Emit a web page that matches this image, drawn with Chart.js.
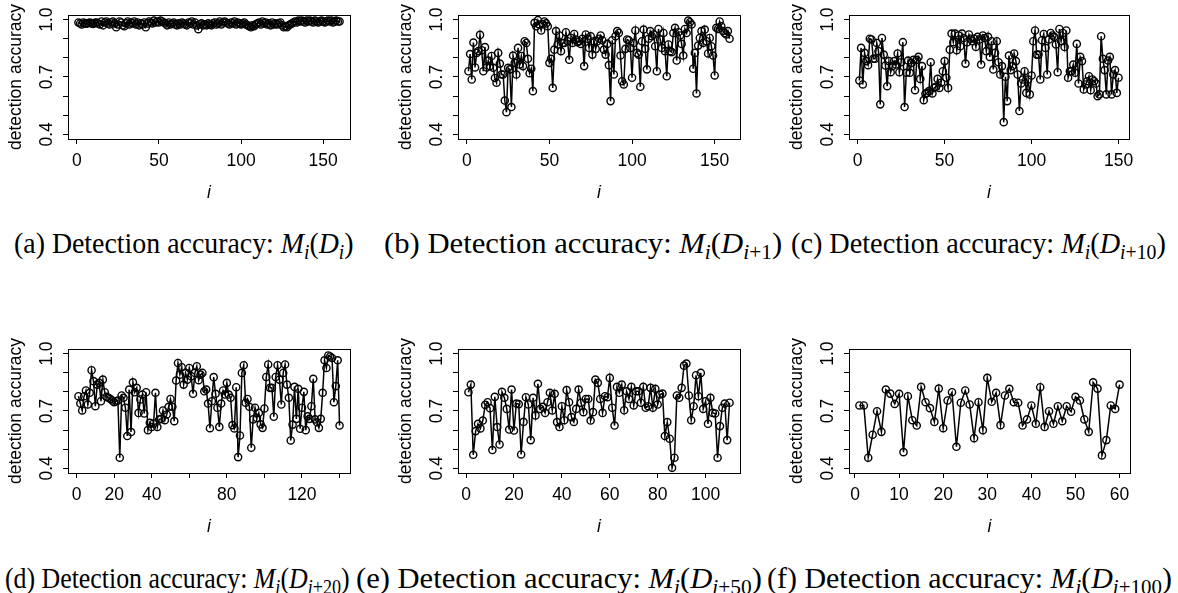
<!DOCTYPE html>
<html lang="en">
<head>
<meta charset="utf-8">
<title>Detection accuracy</title>
<script src="https://cdn.jsdelivr.net/npm/chart.js@4"></script>
<style>
  body { margin:0; background:#fff; width:1178px; height:593px; position:relative; overflow:hidden; }
  canvas { position:absolute; }
  .cap { position:absolute; white-space:nowrap; transform-origin:0 50%;
         font-family:"Liberation Serif","DejaVu Serif",serif; font-size:29.5px; color:#000; }
  .cap sub { font-size:70%; vertical-align:-0.3em; line-height:0; }
</style>
</head>
<body>

<canvas id="pa"></canvas>
<canvas id="pb"></canvas>
<canvas id="pc"></canvas>
<canvas id="pd"></canvas>
<canvas id="pe"></canvas>
<canvas id="pf"></canvas>

<!-- data-l / data-r: left and right ends of each caption in the figure -->
<div class="cap" data-l="14"  data-r="354"  data-y="243">(a) Detection accuracy: <i>M</i><sub><i>i</i></sub>(<i>D</i><sub><i>i</i></sub>)</div>
<div class="cap" data-l="384" data-r="782"  data-y="243">(b) Detection accuracy: <i>M</i><sub><i>i</i></sub>(<i>D</i><sub><i>i</i>+1</sub>)</div>
<div class="cap" data-l="791" data-r="1166" data-y="243">(c) Detection accuracy: <i>M</i><sub><i>i</i></sub>(<i>D</i><sub><i>i</i>+10</sub>)</div>
<div class="cap" data-l="5"   data-r="350"  data-y="578">(d) Detection accuracy: <i>M</i><sub><i>i</i></sub>(<i>D</i><sub><i>i</i>+20</sub>)</div>
<div class="cap" data-l="356" data-r="762"  data-y="578">(e) Detection accuracy: <i>M</i><sub><i>i</i></sub>(<i>D</i><sub><i>i</i>+50</sub>)</div>
<div class="cap" data-l="767" data-r="1172" data-y="578">(f) Detection accuracy: <i>M</i><sub><i>i</i></sub>(<i>D</i><sub><i>i</i>+100</sub>)</div>

<script>
// detection accuracy, index i = 1..n
const accA = [
  0.985,0.98,0.975,0.985,0.98,0.978,0.982,0.985,0.98,0.977,
  0.983,0.985,0.98,0.975,0.99,0.97,0.985,0.99,0.98,0.975,
  0.985,0.99,0.98,0.96,0.975,0.99,0.985,0.97,0.965,0.98,
  0.99,0.975,0.985,0.98,0.99,0.975,0.985,0.97,0.98,0.975,
  0.985,0.96,0.98,0.99,0.985,0.98,0.995,0.985,0.99,0.985,
  0.995,0.99,0.985,0.98,0.97,0.985,0.975,0.98,0.985,0.975,
  0.97,0.98,0.975,0.985,0.98,0.975,0.97,0.985,0.98,0.99,
  0.975,0.985,0.97,0.95,0.975,0.98,0.97,0.975,0.97,0.98,
  0.975,0.97,0.98,0.985,0.975,0.98,0.99,0.975,0.985,0.99,
  0.985,0.98,0.975,0.985,0.98,0.99,0.975,0.985,0.98,0.975,
  0.98,0.985,0.975,0.97,0.965,0.96,0.97,0.965,0.975,0.98,
  0.985,0.975,0.99,0.98,0.985,0.975,0.98,0.97,0.985,0.975,
  0.98,0.975,0.98,0.985,0.97,0.96,0.965,0.96,0.97,0.975,
  0.98,0.985,0.99,0.985,0.995,0.99,0.995,0.99,0.985,0.995,
  0.99,0.995,0.99,0.985,0.995,0.99,0.985,0.99,0.995,0.99,
  0.985,0.99,0.995,0.99,0.995,0.985,0.99,0.995,0.99,0.99
];
const accB = [
  0.73,0.82,0.687,0.88,0.75,0.826,0.835,0.92,0.84,0.73,
  0.856,0.75,0.786,0.757,0.81,0.748,0.695,0.67,0.826,0.77,
  0.713,0.713,0.577,0.516,0.748,0.74,0.543,0.812,0.774,0.713,
  0.852,0.765,0.81,0.757,0.887,0.878,0.795,0.72,0.743,0.626,
  0.983,0.965,0.997,0.974,0.943,0.977,0.99,0.98,0.965,0.774,
  0.795,0.643,0.843,0.94,0.87,0.917,0.835,0.878,0.878,0.934,
  0.887,0.79,0.904,0.878,0.925,0.896,0.882,0.887,0.873,0.9,
  0.757,0.922,0.9,0.852,0.913,0.817,0.887,0.847,0.887,0.9,
  0.917,0.892,0.843,0.817,0.873,0.762,0.574,0.892,0.713,0.913,
  0.94,0.93,0.812,0.678,0.661,0.847,0.896,0.892,0.852,0.696,
  0.878,0.943,0.826,0.817,0.649,0.887,0.948,0.847,0.74,0.9,
  0.94,0.913,0.922,0.861,0.73,0.951,0.896,0.852,0.93,0.835,
  0.704,0.87,0.835,0.83,0.93,0.957,0.786,0.934,0.917,0.873,
  0.812,0.951,0.93,0.995,0.986,0.974,0.743,0.826,0.614,0.864,
  0.904,0.94,0.878,0.948,0.887,0.823,0.904,0.861,0.812,0.708,
  0.957,0.951,0.99,0.965,0.94,0.93,0.922,0.94,0.9
];
const accC = [
  0.682,0.852,0.661,0.826,0.783,0.762,0.9,0.896,0.795,0.795,
  0.878,0.835,0.557,0.904,0.817,0.76,0.652,0.783,0.725,0.757,
  0.783,0.765,0.823,0.725,0.777,0.882,0.543,0.722,0.786,0.722,
  0.774,0.79,0.631,0.79,0.805,0.69,0.757,0.579,0.612,0.617,
  0.626,0.777,0.614,0.643,0.649,0.69,0.643,0.67,0.73,0.783,
  0.696,0.643,0.843,0.927,0.882,0.927,0.84,0.917,0.861,0.927,
  0.904,0.77,0.882,0.922,0.9,0.887,0.9,0.857,0.91,0.896,
  0.765,0.917,0.904,0.835,0.91,0.805,0.887,0.739,0.826,0.887,
  0.777,0.713,0.757,0.464,0.701,0.574,0.812,0.736,0.757,0.823,
  0.783,0.713,0.522,0.666,0.687,0.73,0.617,0.687,0.609,0.708,
  0.887,0.943,0.817,0.817,0.687,0.892,0.925,0.852,0.713,0.896,
  0.93,0.917,0.91,0.87,0.725,0.951,0.887,0.93,0.857,0.943,
  0.696,0.73,0.73,0.765,0.722,0.873,0.666,0.805,0.783,0.635,
  0.661,0.678,0.704,0.631,0.687,0.678,0.666,0.6,0.609,0.913,
  0.795,0.736,0.609,0.786,0.805,0.609,0.713,0.736,0.617,0.696
];
const accD = [
  0.777,0.739,0.703,0.777,0.807,0.734,0.795,0.913,0.856,0.725,
  0.838,0.847,0.751,0.864,0.798,0.774,0.769,0.763,0.755,0.746,
  0.751,0.755,0.456,0.781,0.769,0.717,0.569,0.812,0.59,0.85,
  0.798,0.821,0.69,0.76,0.786,0.687,0.798,0.6,0.638,0.616,
  0.635,0.795,0.616,0.656,0.659,0.703,0.652,0.682,0.722,0.763,
  0.722,0.647,0.859,0.951,0.89,0.929,0.838,0.899,0.864,0.925,
  0.882,0.79,0.899,0.934,0.861,0.89,0.899,0.803,0.812,0.739,
  0.61,0.751,0.877,0.79,0.717,0.617,0.739,0.807,0.786,0.847,
  0.786,0.769,0.626,0.609,0.824,0.459,0.572,0.899,0.939,0.743,
  0.763,0.722,0.508,0.656,0.717,0.664,0.69,0.63,0.612,0.713,
  0.878,0.943,0.821,0.821,0.67,0.878,0.939,0.864,0.734,0.899,
  0.943,0.838,0.769,0.546,0.629,0.826,0.659,0.816,0.607,0.717,
  0.8,0.6,0.672,0.659,0.725,0.868,0.656,0.641,0.612,0.659,
  0.795,0.965,0.925,0.99,0.985,0.977,0.746,0.83,0.965,0.624
];
const accE = [
  0.798,0.838,0.471,0.595,0.633,0.609,0.65,0.732,0.746,0.715,
  0.496,0.774,0.616,0.525,0.8,0.769,0.711,0.603,0.812,0.598,
  0.739,0.736,0.473,0.643,0.772,0.734,0.548,0.769,0.677,0.842,
  0.711,0.722,0.69,0.746,0.795,0.703,0.79,0.642,0.616,0.725,
  0.652,0.809,0.746,0.668,0.643,0.711,0.812,0.743,0.694,0.763,
  0.763,0.65,0.694,0.864,0.847,0.763,0.69,0.777,0.772,0.873,
  0.717,0.624,0.826,0.795,0.838,0.704,0.803,0.763,0.826,0.729,
  0.803,0.803,0.743,0.826,0.717,0.725,0.821,0.717,0.816,0.734,
  0.786,0.791,0.569,0.642,0.555,0.403,0.456,0.781,0.769,0.821,
  0.937,0.948,0.781,0.652,0.725,0.887,0.777,0.899,0.711,0.751,
  0.633,0.769,0.69,0.687,0.456,0.621,0.717,0.739,0.548,0.743
];
const accF = [
  0.729,0.729,0.456,0.576,0.699,0.591,0.812,0.791,0.737,0.79,
  0.485,0.777,0.652,0.624,0.826,0.746,0.715,0.643,0.817,0.61,
  0.755,0.798,0.513,0.743,0.807,0.734,0.558,0.746,0.6,0.873,
  0.748,0.795,0.626,0.781,0.816,0.746,0.743,0.624,0.656,0.729,
  0.633,0.824,0.617,0.699,0.633,0.725,0.647,0.725,0.696,0.774,
  0.755,0.656,0.591,0.85,0.817,0.468,0.548,0.729,0.711,0.838
];

// tick positions and which of them carry a label
const yLabelled = [0.4, 0.7, 1.0];
const xLabelsA = [0, 50, 100, 150];
const xLabelsD = [0, 20, 40, 80, 120];
const xLabelsE = [0, 20, 40, 60, 80, 100];
const xLabelsF = [0, 10, 20, 30, 40, 50, 60];

const SANS = '"Liberation Sans", Arial, sans-serif';
const FS = 17.5;

// R-style closed box round the plot region
const boxPlugin = {
  id: 'rbox',
  afterDraw(chart) {
    const a = chart.chartArea, ctx = chart.ctx;
    ctx.save();
    ctx.strokeStyle = '#000';
    ctx.lineWidth = 1;
    ctx.strokeRect(Math.round(a.left) + 0.5, Math.round(a.top) + 0.5,
                   Math.round(a.right - a.left), Math.round(a.bottom - a.top));
    ctx.restore();
  }
};

const makePanel = (id, values, box, step, xLabels) => {
  const n = values.length;
  const canvas = document.getElementById(id);
  const W = Math.round(box.right - box.left) + 68 + 10;
  const H = 210;
  canvas.width = W;
  canvas.height = H;
  canvas.style.left = (Math.round(box.left) - 68) + 'px';
  canvas.style.top = (Math.round(box.top) - 15) + 'px';

  new Chart(canvas, {
    type: 'line',
    data: {
      datasets: [{
        data: values.map((v, k) => ({ x: k + 1, y: v })),
        borderColor: '#000',
        borderWidth: 1.5,
        pointRadius: 3.6,
        pointBorderWidth: 1.4,
        pointBorderColor: '#000',
        pointBackgroundColor: 'rgba(0,0,0,0)',
        tension: 0
      }]
    },
    options: {
      responsive: false,
      animation: false,
      events: [],
      layout: { padding: { top: 15, right: 10, left: 0, bottom: 0 } },
      plugins: { legend: { display: false }, tooltip: { enabled: false } },
      scales: {
        x: {
          type: 'linear',
          min: 1 - 0.04 * (n - 1),
          max: n + 0.04 * (n - 1),
          afterFit: s => { s.height = H - 15 - 124; },
          border: { display: false },
          grid: { drawOnChartArea: false, drawTicks: true, tickLength: 5, color: '#000' },
          ticks: {
            stepSize: step, includeBounds: false, autoSkip: false, maxRotation: 0,
            padding: 6.5, color: '#000', font: { family: SANS, size: FS },
            callback: v => xLabels.includes(v) ? String(v) : ''
          },
          title: {
            display: true, text: 'i', color: '#000',
            font: { family: SANS, size: FS, style: 'italic' },
            padding: { top: 0, bottom: 6.5 }
          }
        },
        y: {
          min: 0.376,
          max: 1.024,
          afterFit: s => { s.width = 68; },
          border: { display: false },
          grid: { drawOnChartArea: false, drawTicks: true, tickLength: 5, color: '#000' },
          ticks: {
            stepSize: 0.1, includeBounds: false, autoSkip: false,
            minRotation: 90, maxRotation: 90, crossAlign: 'center',
            padding: 4, color: '#000', font: { family: SANS, size: FS },
            callback: v => {
              const r = Math.round(v * 10) / 10;
              return yLabelled.includes(r) ? r.toFixed(1) : '';
            }
          },
          title: {
            display: true, text: 'detection accuracy', color: '#000',
            font: { family: SANS, size: FS },
            padding: { top: 6, bottom: 0 }
          }
        }
      }
    },
    plugins: [boxPlugin]
  });
};

makePanel('pa', accA, { left: 68, top: 15, right: 349.5 }, 50, xLabelsA);
makePanel('pb', accB, { left: 458, top: 15, right: 739.5 }, 50, xLabelsA);
makePanel('pc', accC, { left: 849, top: 15, right: 1130 }, 50, xLabelsA);
makePanel('pd', accD, { left: 68, top: 349, right: 349.5 }, 20, xLabelsD);
makePanel('pe', accE, { left: 458, top: 349, right: 739.5 }, 20, xLabelsE);
makePanel('pf', accF, { left: 849, top: 349, right: 1130 }, 10, xLabelsF);

// fit each caption to the span it covers in the figure
document.querySelectorAll('.cap').forEach(el => {
  const l = +el.dataset.l, r = +el.dataset.r, y = +el.dataset.y;
  const w = el.offsetWidth, h = el.offsetHeight;
  el.style.left = l + 'px';
  el.style.top = (y - h / 2) + 'px';
  el.style.transform = 'scaleX(' + ((r - l) / w).toFixed(4) + ')';
});
</script>
</body>
</html>
